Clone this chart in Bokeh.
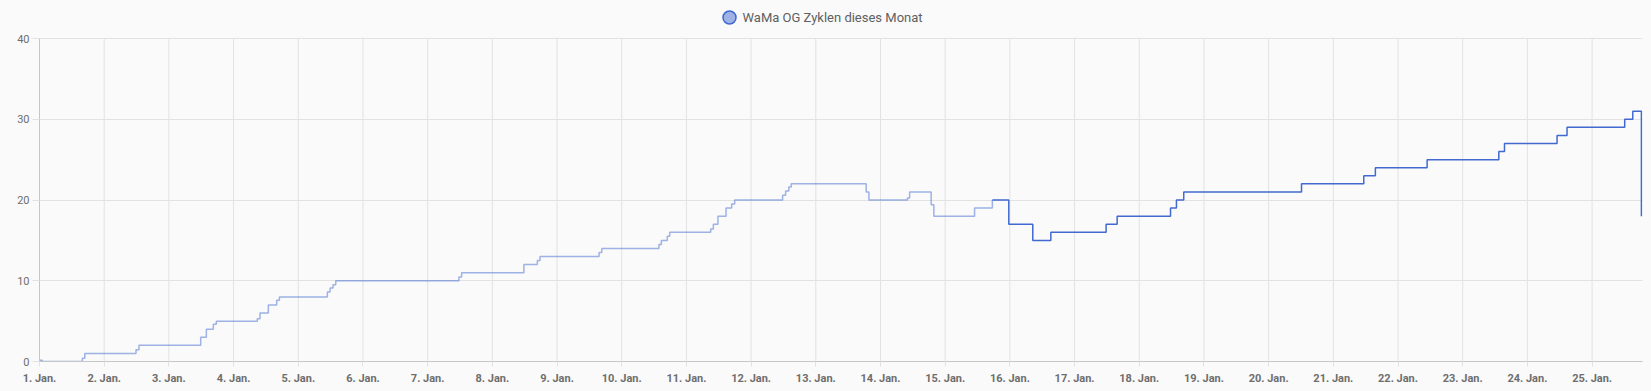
from bokeh.plotting import figure
from bokeh.models import ColumnDataSource, FixedTicker
from bokeh.core.properties import value
from bokeh.embed import file_html
from bokeh.resources import INLINE

# ---- data (hours since 1 Jan 00:00, value held until next change) ----
series_name = "WaMa OG Zyklen dieses Monat"

# long-term statistics part (hourly means -> faded line)
stat_hours = [0, 1, 15.9, 16.8, 35.8, 36.9, 59.8, 61.9, 64.5, 65.6, 80.8, 81.8,
              84.9, 88.0, 89.0, 106.8, 107.8, 108.9, 109.9, 155.6, 156.6, 179.7,
              184.7, 185.7, 207.6, 208.6, 229.8, 230.7, 232.9, 233.8, 249.0, 250.0,
              251.7, 254.7, 256.8, 257.9, 275.7, 276.8, 278.0, 278.9, 306.7, 307.7,
              322.0, 322.8, 330.8, 331.8, 346.9, 353.5]
stat_values = [0.15, 0, 0.4, 1, 1.45, 2, 3, 4, 4.6, 5, 5.3, 6,
               7, 7.6, 8, 8.6, 9.1, 9.5, 10, 10.45, 11, 12,
               12.5, 13, 13.5, 14, 14.5, 15, 15.5, 16, 16.4, 17,
               18, 19, 19.5, 20, 20.6, 21.1, 21.6, 22, 21, 20,
               20.25, 21, 19.4, 18, 19, 20]

# recent state history part (solid line)
state_hours = [353.5, 359.6, 368.5, 375.2, 395.7, 399.8, 419.6, 421.8, 424.5,
               468.2, 491.3, 495.6, 514.8, 541.4, 543.5, 563.0, 566.7, 588.1,
               591.1, 594.3]
state_values = [20, 17, 15, 16, 17, 18, 19, 20, 21,
                22, 23, 24, 25, 26, 27, 28, 29, 30,
                31, 18]

x_end_hours = 594.7
day_numbers = list(range(1, 26))
day_labels = [f"{d}. Jan." for d in day_numbers]
y_ticks = [0, 10, 20, 30, 40]
y_axis_max = 40

COLOR = "#4269d0"
BG = "#fafafa"
GRID = "#e2e2e2"
TEXT = "#6e6e6e"
FONT = "Roboto"

# layout (pixels)
W, H = 1651, 391
LEFT, RIGHT, BOTTOM = 39, 9, 30
frame_w = W - LEFT - RIGHT
frame_h = H - BOTTOM
y_top = y_axis_max * frame_h / (frame_h - 38)   # 40 sits 38px below the top

p = figure(width=W, height=H, output_backend="svg", toolbar_location=None,
           x_range=(0, x_end_hours), y_range=(0, y_top),
           min_border_left=LEFT, min_border_right=RIGHT, min_border_top=0,
           min_border_bottom=BOTTOM)
p.background_fill_color = BG
p.border_fill_color = BG
p.outline_line_color = None

tick_pos = [(d - 1) * 24 for d in day_numbers]

# vertical grid lines, limited to the axis span
p.segment(x0=tick_pos, y0=[0] * len(tick_pos), x1=tick_pos, y1=[y_axis_max] * len(tick_pos),
          line_color=GRID, line_width=1)

stat_src = ColumnDataSource(dict(x=stat_hours, y=stat_values))
state_src = ColumnDataSource(dict(x=state_hours, y=state_values))
p.step("x", "y", source=stat_src, mode="after", line_color=COLOR, line_alpha=0.5, line_width=1.5)
p.step("x", "y", source=state_src, mode="after", line_color=COLOR, line_alpha=1.0, line_width=1.5)

# axes
p.xaxis.ticker = FixedTicker(ticks=tick_pos)
p.xaxis.major_label_overrides = {t: lab for t, lab in zip(tick_pos, day_labels)}
p.yaxis.ticker = FixedTicker(ticks=y_ticks)
p.yaxis.bounds = (0, y_axis_max)

for ax in (p.xaxis, p.yaxis):
    ax.axis_line_color = "#c6c6c6"
    ax.major_tick_line_color = GRID
    ax.minor_tick_line_color = None
    ax.major_tick_in = 0
    ax.major_label_text_font = FONT
    ax.major_label_text_color = TEXT

p.xaxis.major_tick_out = 5
p.xaxis.major_label_standoff = 5
p.xaxis.major_label_text_font_size = "11px"
p.xaxis.major_label_text_font_style = "bold"
p.yaxis.major_tick_out = 7
p.yaxis.major_label_standoff = 3
p.yaxis.major_label_text_font_size = "11px"

p.xgrid.grid_line_color = None
p.ygrid.grid_line_color = GRID

# legend (circle + label) drawn at the top, converted from pixel offsets
def px_to_x(px):
    return x_end_hours * (px - LEFT) / frame_w

def py_to_y(py):
    return y_top * (frame_h - py) / frame_h

legend_y = py_to_y(17)
p.scatter(x=[px_to_x(729)], y=[legend_y], marker="circle", size=13,
          fill_color=COLOR, fill_alpha=0.5, line_color=COLOR, line_width=1.5)
p.text(x=[px_to_x(742)], y=[legend_y], text=[series_name],
       text_font=value(FONT), text_font_size="13px", text_color="#5f5f5f",
       text_align="left", text_baseline="middle")

html = file_html(p, INLINE)
html = html.replace("</head>", "<style>body{background:#fafafa;}</style></head>", 1)
open("out.html", "w").write(html)
